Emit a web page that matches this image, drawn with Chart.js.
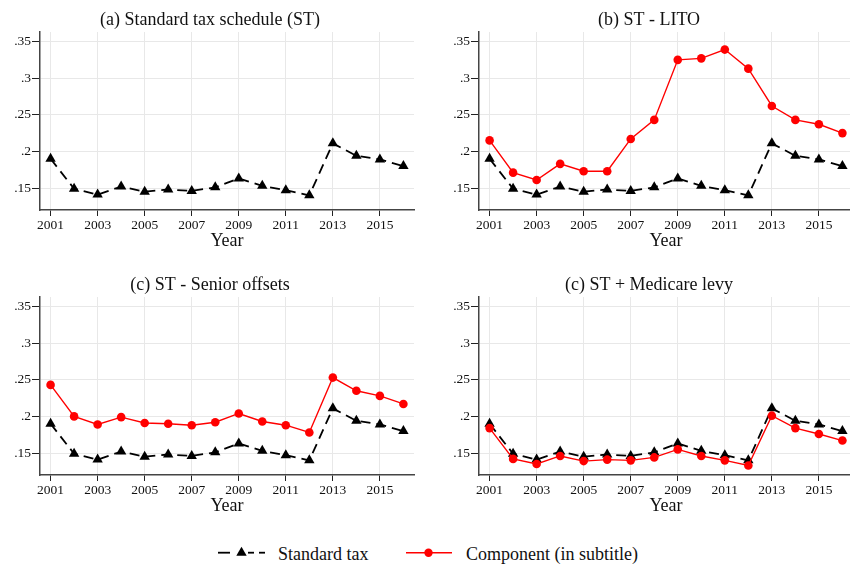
<!DOCTYPE html>
<html>
<head>
<meta charset="utf-8">
<script src="https://cdn.jsdelivr.net/npm/chart.js@4.4.1/dist/chart.umd.min.js"></script>
<style>
  html, body { margin: 0; padding: 0; background: #fff; }
  body { width: 850px; height: 565px; position: relative; overflow: hidden;
         font-family: "Liberation Serif", "Times New Roman", serif; color: #111; }
  .panel { position: absolute; }
  .legend-text { position: absolute; font-size: 18px; line-height: 18px; white-space: nowrap; }
</style>
</head>
<body>
<div class="panel" style="left:0;top:0"><canvas id="chartA" width="420" height="258"></canvas></div>
<div class="panel" style="left:439px;top:0"><canvas id="chartB" width="420" height="258"></canvas></div>
<div class="panel" style="left:0;top:265px"><canvas id="chartC" width="420" height="258"></canvas></div>
<div class="panel" style="left:439px;top:265px"><canvas id="chartD" width="420" height="258"></canvas></div>

<!-- shared legend -->
<svg style="position:absolute;left:0;top:538px" width="850" height="30">
  <g stroke="#000" stroke-width="1.8">
    <line x1="218" y1="14.7" x2="230" y2="14.7"/>
    <line x1="248" y1="14.7" x2="254" y2="14.7"/>
    <line x1="259" y1="14.7" x2="265" y2="14.7"/>
  </g>
  <polygon points="241.5,8.7 246.7,17.7 236.3,17.7" fill="#000"/>
  <line x1="406" y1="14.7" x2="452" y2="14.7" stroke="#f00" stroke-width="1.4"/>
  <circle cx="428.5" cy="14.7" r="4.2" fill="#f00"/>
</svg>
<span class="legend-text" style="left:278px;top:545px">Standard tax</span>
<span class="legend-text" style="left:466px;top:545px">Component (in subtitle)</span>

<script>
const years = [2001, 2002, 2003, 2004, 2005, 2006, 2007, 2008,
               2009, 2010, 2011, 2012, 2013, 2014, 2015, 2016];

const standardTax = [0.190, 0.149, 0.141, 0.152, 0.145, 0.148, 0.146, 0.151,
                     0.163, 0.153, 0.147, 0.140, 0.211, 0.194, 0.189, 0.180];

const litoComponent = [0.215, 0.171, 0.161, 0.183, 0.173, 0.173, 0.217, 0.243,
                       0.325, 0.327, 0.339, 0.313, 0.262, 0.243, 0.237, 0.225];

const seniorComponent = [0.243, 0.200, 0.189, 0.199, 0.191, 0.190, 0.188, 0.192,
                         0.204, 0.193, 0.188, 0.178, 0.253, 0.235, 0.228, 0.217];

const medicareComponent = [0.184, 0.142, 0.135, 0.146, 0.139, 0.141, 0.140, 0.144,
                           0.155, 0.146, 0.140, 0.133, 0.201, 0.184, 0.176, 0.167];

const xTicks = [2001, 2003, 2005, 2007, 2009, 2011, 2013, 2015];
const yTicks = [0.15, 0.2, 0.25, 0.3, 0.35];

const SERIF = '"Liberation Serif", "Times New Roman", serif';

function toPoints(values) {
  return values.map((v, i) => ({ x: years[i], y: v }));
}

function standardSet() {
  return {
    label: 'Standard tax',
    data: toPoints(standardTax),
    borderColor: '#000',
    backgroundColor: '#000',
    borderWidth: 1.8,
    borderDash: [10, 6],
    pointStyle: 'triangle',
    pointRadius: 6,
    pointBorderWidth: 0,
    tension: 0,
    order: 1
  };
}

function componentSet(values) {
  return {
    label: 'Component (in subtitle)',
    data: toPoints(values),
    borderColor: '#f00',
    backgroundColor: '#f00',
    borderWidth: 1.4,
    pointStyle: 'circle',
    pointRadius: 4.3,
    pointBorderWidth: 0,
    tension: 0,
    order: 0
  };
}

function makePanel(id, title, component) {
  const datasets = [standardSet()];
  if (component) datasets.push(componentSet(component));

  new Chart(document.getElementById(id), {
    type: 'line',
    data: { datasets: datasets },
    options: {
      responsive: false,
      animation: false,
      layout: { padding: 0 },
      plugins: {
        legend: { display: false },
        tooltip: { enabled: false },
        title: {
          display: true,
          text: title,
          color: '#111',
          font: { family: SERIF, size: 18, weight: 'normal', lineHeight: 1.2 },
          padding: { top: 9.6, bottom: 0.8 }
        }
      },
      scales: {
        x: {
          type: 'linear',
          min: 2000.55,
          max: 2016.45,
          afterBuildTicks: s => { s.ticks = xTicks.map(v => ({ value: v })); },
          afterFit: s => { s.height = 48; },
          grid: { color: '#e8e8e8', lineWidth: 1, tickColor: '#222', tickLength: 6 },
          border: { color: '#444', width: 1.5 },
          ticks: {
            color: '#111',
            font: { family: SERIF, size: 13.5 },
            padding: 1,
            maxRotation: 0,
            autoSkip: false,
            callback: v => String(v)
          },
          title: {
            display: true,
            text: 'Year',
            color: '#111',
            font: { family: SERIF, size: 18, lineHeight: 1.2 },
            padding: { top: 0, bottom: 5.8 }
          }
        },
        y: {
          min: 0.12,
          max: 0.363,
          afterBuildTicks: s => { s.ticks = yTicks.map(v => ({ value: v })); },
          afterFit: s => { s.width = 40; },
          grid: { color: '#e8e8e8', lineWidth: 1, tickColor: '#222', tickLength: 8 },
          border: { color: '#444', width: 1.5 },
          ticks: {
            color: '#111',
            font: { family: SERIF, size: 13.5 },
            padding: 1,
            callback: v => String(v).replace(/^0/, '')
          }
        }
      }
    }
  });
}

makePanel('chartA', '(a) Standard tax schedule (ST)', null);
makePanel('chartB', '(b) ST - LITO', litoComponent);
makePanel('chartC', '(c) ST - Senior offsets', seniorComponent);
makePanel('chartD', '(c) ST + Medicare levy', medicareComponent);
</script>
</body>
</html>
